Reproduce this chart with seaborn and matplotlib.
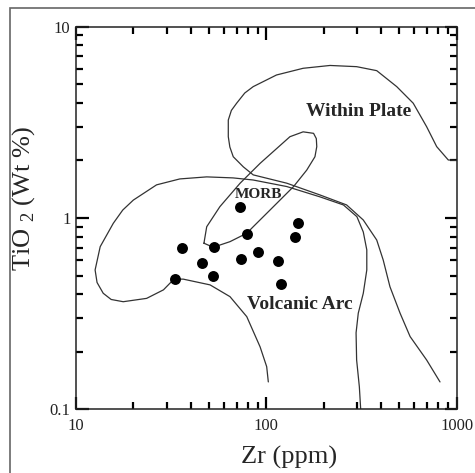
import seaborn as sns
import matplotlib.pyplot as plt
from matplotlib.patches import Rectangle
from matplotlib.ticker import NullFormatter

# Sample analyses
zr = [33.0, 35.9, 45.7, 53.2, 52.6, 72.6, 78.7, 73.5, 89.9, 115.3, 118.8, 141.6, 146.8]
tio2 = [0.481, 0.693, 0.583, 0.703, 0.497, 1.146, 0.822, 0.610, 0.664, 0.598, 0.450, 0.793, 0.944]

# Field boundaries (Zr ppm, TiO2 wt%)
arc_outer_zr = [33.1, 28.8, 23.5, 17.7, 15.3, 13.9, 12.9, 12.6, 13.4, 15.7, 17.6, 20.0, 26.5, 35.1,
                48.6, 66.8, 85.1, 128, 191, 254, 299, 323, 337, 337, 323, 304, 296, 298, 308, 313]
arc_outer_ti = [0.485, 0.421, 0.380, 0.365, 0.375, 0.404, 0.46, 0.535, 0.708, 0.938, 1.10, 1.24, 1.49,
                1.60, 1.64, 1.62, 1.58, 1.46, 1.29, 1.17, 1.016, 0.845, 0.681, 0.535, 0.404, 0.318,
                0.251, 0.181, 0.131, 0.1]

arc_inner_zr = [33.1, 36.6, 50.6, 64.4, 78.9, 92.7, 100.4, 102.4]
arc_inner_ti = [0.479, 0.479, 0.447, 0.388, 0.305, 0.212, 0.167, 0.139]

morb_zr = [47.0, 48.6, 57.0, 72.8, 92.7, 133, 156, 177, 183, 184, 180, 163, 139, 104.5, 85.3,
           78.9, 64.4, 52.6, 47.0]
morb_ti = [0.738, 0.90, 1.146, 1.52, 1.93, 2.66, 2.82, 2.77, 2.60, 2.36, 2.09, 1.78, 1.46, 1.10,
           0.90, 0.832, 0.752, 0.703, 0.738]

wpb_zr = [817, 695, 569, 504, 446, 411, 380, 323, 264, 191, 128, 85.3, 75.7, 67.0, 64.3, 63.1,
          63.1, 65.5, 69.8, 77.0, 85.3, 113, 156, 216, 298, 380, 484, 591, 695, 785, 903, 1000]
wpb_ti = [0.139, 0.181, 0.240, 0.318, 0.437, 0.603, 0.767, 0.976, 1.17, 1.32, 1.52, 1.68, 1.85,
          2.09, 2.35, 2.66, 3.25, 3.65, 3.98, 4.50, 4.86, 5.59, 6.06, 6.27, 6.18, 5.89, 4.86, 3.98,
          3.00, 2.36, 2.01, 2.0]

field_names = ["Within Plate", "MORB", "Volcanic Arc"]
label_zr = [307, 90.4, 149]
label_ti = [3.62, 1.33, 0.351]

sns.set_style("ticks")
plt.rcParams["font.family"] = ["Liberation Serif", "DejaVu Serif"]
plt.rcParams["mathtext.fontset"] = "custom"
plt.rcParams["mathtext.rm"] = "Liberation Serif"

fig = plt.figure(figsize=(4.75, 4.73), dpi=100)
ax = fig.add_axes([0.16, 0.1347, 0.8015, 0.8089])
ax.set_xscale("log")
ax.set_yscale("log")

line_kw = dict(sort=False, estimator=None, color="#333333", linewidth=0.9, ax=ax)
sns.lineplot(x=arc_outer_zr, y=arc_outer_ti, **line_kw)
sns.lineplot(x=arc_inner_zr, y=arc_inner_ti, **line_kw)
sns.lineplot(x=morb_zr, y=morb_ti, **line_kw)
sns.lineplot(x=wpb_zr, y=wpb_ti, **line_kw)

sns.scatterplot(x=zr, y=tio2, s=62, color="black", linewidth=0, ax=ax, zorder=5)

sizes = [14, 11, 14]
for name, xx, yy, fs in zip(field_names, label_zr, label_ti, sizes):
    ax.text(xx, yy, name, ha="center", va="center", fontsize=fs, fontweight="bold", zorder=6)

ax.set_xlim(10, 1000)
ax.set_ylim(0.1, 10)
ax.set_xticks([10, 100, 1000])
ax.set_xticklabels(["10", "100", "1000"])
ax.set_yticks([0.1, 1, 10])
ax.set_yticklabels(["0.1", "1", "10"])
ax.xaxis.set_minor_formatter(NullFormatter())
ax.yaxis.set_minor_formatter(NullFormatter())

ax.tick_params(which="both", direction="in", top=True, right=True, width=1.6,
               color="black", labelsize=12, labelcolor="#222222")
ax.tick_params(which="major", length=9)
ax.tick_params(which="minor", length=5)
ax.tick_params(axis="x", pad=6)
ax.tick_params(axis="y", pad=4)
for sp in ax.spines.values():
    sp.set_linewidth(1.1)
    sp.set_color("#222222")

ax.set_xlabel("Zr (ppm)", fontsize=19)
ax.set_ylabel("TiO $_{2}$ (Wt %)", fontsize=19)
ax.xaxis.set_label_coords(0.559, -0.095)
ax.yaxis.set_label_coords(-0.103, 0.552)

# outer frame of the original figure panel
fig.add_artist(Rectangle((10 / 475, -0.1), 1.2, 1.1 - 8 / 473, transform=fig.transFigure,
                         fill=False, edgecolor="#666666", linewidth=1.2))

fig.savefig("out.png", dpi=100)
